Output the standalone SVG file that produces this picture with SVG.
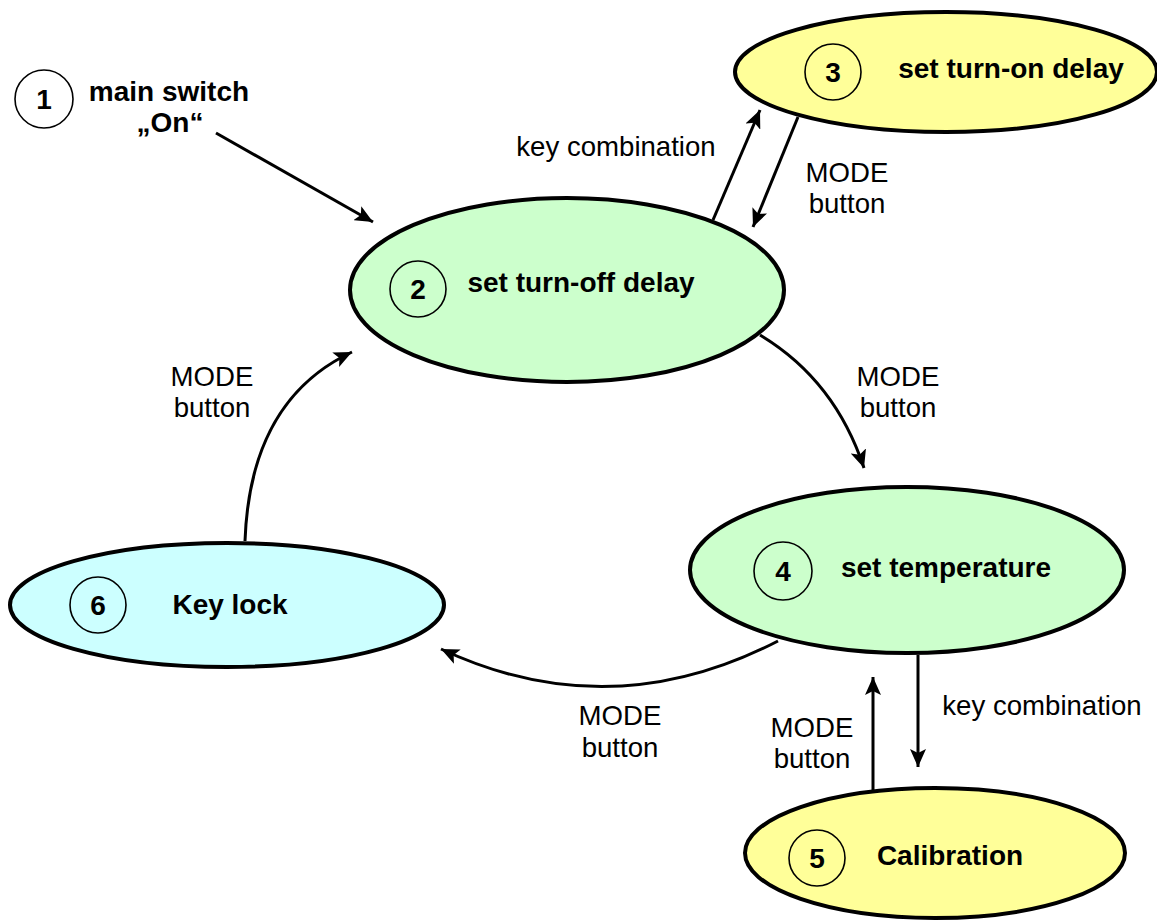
<svg xmlns="http://www.w3.org/2000/svg" width="1157" height="921" viewBox="0 0 1157 921">
<style>
.st{stroke:#000;stroke-width:4}
.num{fill:none;stroke:#000;stroke-width:1.6}
.green{fill:#CCFFCC}
.yellow{fill:#FFFF99}
.cyan{fill:#CCFFFF}
text{font-family:"Liberation Sans",Arial,sans-serif;fill:#000}
.b{font-weight:bold;font-size:28px}
.r{font-size:27.6px;text-anchor:middle}
.m{text-anchor:middle}
.conn{fill:none;stroke:#000;stroke-width:3}
</style>
<defs>
<marker id="ah" markerUnits="userSpaceOnUse" markerWidth="20" markerHeight="16" refX="18" refY="8" orient="auto">
<path d="M0,0 L18,8 L0,16 L4,8 Z" fill="#000"/>
</marker>
</defs>
<rect width="1157" height="921" fill="#fff"/>
<g id="node1">
<circle class="num" cx="44" cy="99" r="29"/>
<text class="b m" x="44" y="109">1</text>
<text class="b m" x="169" y="101">main switch</text>
<text class="b m" x="170" y="132">„On“</text>
</g>
<g id="node2">
<ellipse class="st green" cx="567" cy="290" rx="217" ry="92"/>
<circle class="num" cx="418" cy="289" r="28"/>
<text class="b m" x="418" y="299">2</text>
<text class="b m" x="581" y="292">set turn-off delay</text>
</g>
<g id="node3">
<ellipse class="st yellow" cx="946" cy="72" rx="211" ry="60"/>
<circle class="num" cx="833" cy="72" r="28"/>
<text class="b m" x="833" y="82">3</text>
<text class="b m" x="1011" y="78">set turn-on delay</text>
</g>
<g id="node4">
<ellipse class="st green" cx="907" cy="570" rx="217" ry="83"/>
<circle class="num" cx="783" cy="571" r="29"/>
<text class="b m" x="783" y="581">4</text>
<text class="b m" x="946" y="577">set temperature</text>
</g>
<g id="node5">
<ellipse class="st yellow" cx="935" cy="853" rx="190" ry="65"/>
<circle class="num" cx="817" cy="858" r="28"/>
<text class="b m" x="817" y="868">5</text>
<text class="b m" x="950" y="865">Calibration</text>
</g>
<g id="node6">
<ellipse class="st cyan" cx="227" cy="605" rx="217" ry="62"/>
<circle class="num" cx="98" cy="605" r="28"/>
<text class="b m" x="98" y="615">6</text>
<text class="b m" x="230" y="614">Key lock</text>
</g>
<g id="connectors">
<path class="conn" d="M216,133 L373,222" marker-end="url(#ah)"/>
<path class="conn" d="M713,220 L760,110" marker-end="url(#ah)"/>
<path class="conn" d="M798,117 L753,227" marker-end="url(#ah)"/>
<path class="conn" d="M760,335 Q835,380 864,468" marker-end="url(#ah)"/>
<path class="conn" d="M778,641 Q610,728 441,649" marker-end="url(#ah)"/>
<path class="conn" d="M245,541 Q250,400 352,352" marker-end="url(#ah)"/>
<path class="conn" d="M918,655 L918,767" marker-end="url(#ah)"/>
<path class="conn" d="M873,790 L873,677" marker-end="url(#ah)"/>
<text class="r" x="616" y="156">key combination</text>
<text class="r" x="847" y="182">MODE</text>
<text class="r" x="847" y="213">button</text>
<text class="r" x="898" y="386">MODE</text>
<text class="r" x="898" y="417">button</text>
<text class="r" x="212" y="386">MODE</text>
<text class="r" x="212" y="417">button</text>
<text class="r" x="620" y="725">MODE</text>
<text class="r" x="620" y="757">button</text>
<text class="r" x="1042" y="715">key combination</text>
<text class="r" x="812" y="737">MODE</text>
<text class="r" x="812" y="768">button</text>
</g>
</svg>
